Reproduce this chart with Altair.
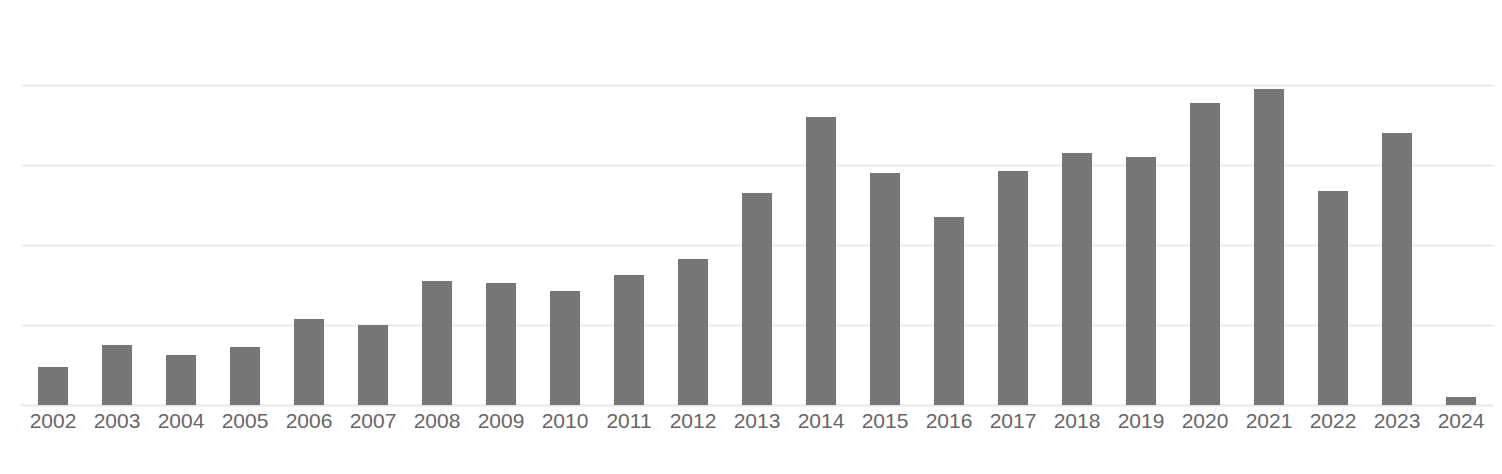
import altair as alt
import pandas as pd

years = [str(y) for y in range(2002, 2025)]
values = [19, 30, 25, 29, 43, 40, 62, 61, 57, 65, 73, 106, 144, 116, 94, 117,
          126, 124, 151, 158, 107, 136, 4]

df = pd.DataFrame({"year": years, "value": values})

chart = alt.Chart(df).mark_bar(color="#767676").encode(
    x=alt.X("year:N", sort=years, title=None,
            scale=alt.Scale(paddingInner=0.53125, paddingOuter=0.265625),
            axis=alt.Axis(labelAngle=0, labelFont="Liberation Sans", labelFontSize=21,
                          labelColor="#666666", ticks=False, domain=True,
                          domainColor="#ebebeb", domainWidth=2, labelPadding=5,
                          grid=False)),
    y=alt.Y("value:Q", title=None,
            scale=alt.Scale(domain=[0, 160], nice=False),
            axis=alt.Axis(values=[0, 40, 80, 120, 160], labels=False, ticks=False,
                          domain=False, grid=True, gridColor="#ebebeb", gridWidth=2)),
).properties(
    width=1472, height=320,
    autosize=alt.AutoSizeParams(type="none"),
    padding={"left": 13, "top": 77, "right": 1, "bottom": 50},
).configure_view(stroke=None)

chart.save("out.html", embed_options={"renderer": "svg", "actions": False})
